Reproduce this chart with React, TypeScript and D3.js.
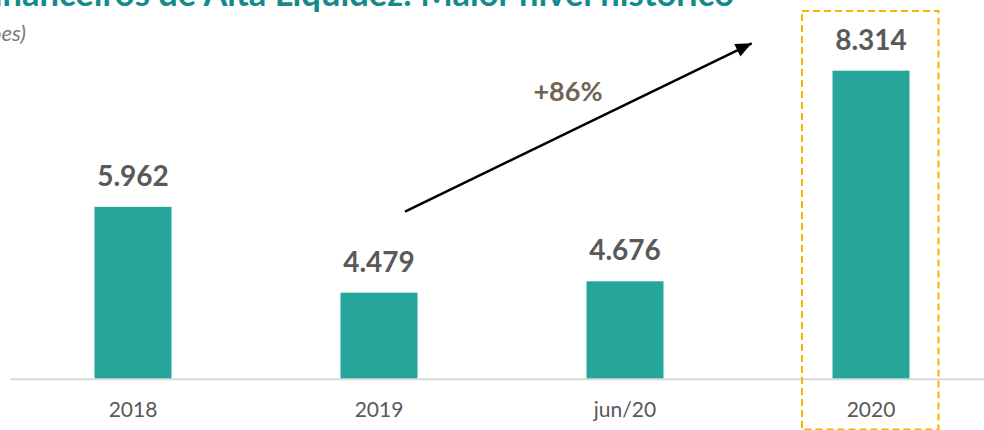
import React from "react";
import * as d3 from "d3";

const categories = ["2018", "2019", "jun/20", "2020"];
const values = [5962, 4479, 4676, 8314];
const valueLabels = ["5.962", "4.479", "4.676", "8.314"];
const titleText = "Ativos Financeiros de Alta Liquidez: Maior nível histórico";
const subtitleText = "(em R$ milhões)";
const growthLabel = "+86%";
const highlighted = "2020";

const W = 984;
const H = 430;
const FONT = "Lato, 'Open Sans', 'DejaVu Sans', sans-serif";

export default function App() {
  const x = d3
    .scaleBand<string>()
    .domain(categories)
    .range([10, 994])
    .paddingInner(0.687)
    .paddingOuter(0.3435);
  const y = d3.scaleLinear().domain([3000, 8314]).range([378.3, 70.7]);
  const baseY = y(3000);
  const bw = x.bandwidth();

  const hx = x(highlighted) as number;

  return (
    <svg
      width={W}
      height={H}
      style={{ position: "absolute", left: 0, top: 0, background: "#fff" }}
      fontFamily={FONT}
    >
      <defs>
        <marker
          id="arrowHead"
          markerUnits="userSpaceOnUse"
          markerWidth={18}
          markerHeight={16}
          refX={16}
          refY={7}
          orient="auto"
        >
          <path d="M0,0 L16,7 L0,14 Z" fill="#000" />
        </marker>
      </defs>

      {/* title (cropped at the top, as in the source) */}
      <text
        x={734}
        y={6}
        textAnchor="end"
        fontSize={34.5}
        fontWeight={700}
        fill="#138a8c"
      >
        {titleText}
      </text>
      <text
        x={26}
        y={41}
        textAnchor="end"
        fontSize={22}
        fontStyle="italic"
        fill="#7a7a7a"
      >
        {subtitleText}
      </text>

      {/* baseline */}
      <line x1={10} x2={W} y1={baseY + 1} y2={baseY + 1} stroke="#d9d9d9" strokeWidth={2} />

      {/* bars */}
      {categories.map((c, i) => (
        <rect
          key={c}
          x={x(c)}
          y={y(values[i])}
          width={bw}
          height={baseY - y(values[i])}
          fill="#26a59a"
        />
      ))}

      {/* value labels */}
      {categories.map((c, i) => (
        <text
          key={c + "-v"}
          x={(x(c) as number) + bw / 2}
          y={y(values[i]) - 21}
          textAnchor="middle"
          fontSize={28}
          fontWeight={700}
          fill="#595959"
        >
          {valueLabels[i]}
        </text>
      ))}

      {/* category labels */}
      {categories.map((c) => (
        <text
          key={c + "-c"}
          x={(x(c) as number) + bw / 2}
          y={417}
          textAnchor="middle"
          fontSize={21}
          fill="#595959"
        >
          {c}
        </text>
      ))}

      {/* highlight box */}
      <rect
        x={hx - 30.5}
        y={11}
        width={bw + 59.5}
        height={418.5}
        fill="none"
        stroke="#f5b400"
        strokeWidth={2}
        strokeDasharray="7,4"
      />

      {/* growth arrow */}
      <line
        x1={405}
        y1={211.7}
        x2={751.7}
        y2={43.3}
        stroke="#000"
        strokeWidth={2.5}
        markerEnd="url(#arrowHead)"
      />
      <text
        x={568}
        y={101}
        textAnchor="middle"
        fontSize={27}
        fontWeight={700}
        fill="#6f6454"
      >
        {growthLabel}
      </text>
    </svg>
  );
}
